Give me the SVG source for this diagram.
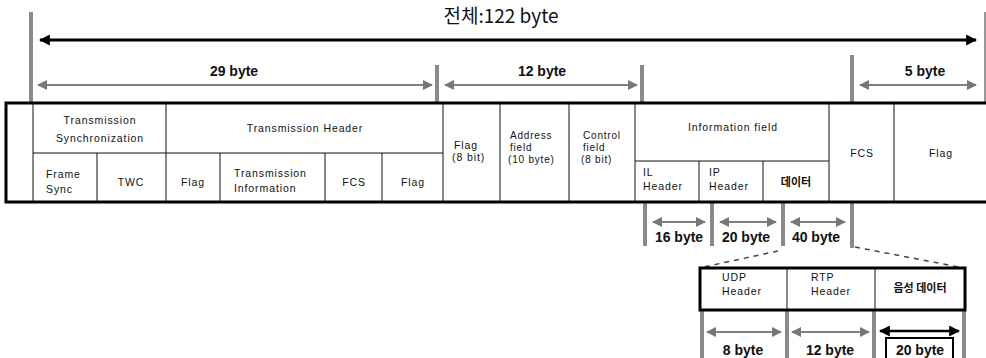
<svg xmlns="http://www.w3.org/2000/svg" width="986" height="358" viewBox="0 0 986 358">
<defs>
<style>
.t{font-family:"Liberation Sans","Noto Sans CJK KR",sans-serif;font-size:10.5px;letter-spacing:0.9px;fill:#111}
.s{font-size:10px;letter-spacing:0.8px}
.k{font-family:"Noto Sans CJK KR","Liberation Sans",sans-serif;font-size:11px;font-weight:bold;fill:#111}
.b{font-family:"Liberation Sans","Noto Sans CJK KR",sans-serif;font-size:14px;font-weight:bold;fill:#111;text-anchor:middle}
.m{text-anchor:middle}
.bar{fill:#8a8a8a}
.cell{fill:none;stroke:#111;stroke-width:1}
.frame{fill:none;stroke:#000;stroke-width:3}
.ga{stroke:#555;stroke-width:1.5;fill:none;marker-start:url(#gs);marker-end:url(#ge)}
</style>
<marker id="ge" viewBox="0 0 10 10" refX="9" refY="5" markerWidth="10" markerHeight="10" markerUnits="userSpaceOnUse" orient="auto"><path d="M0,0 L10,5 L0,10 Z" fill="#777"/></marker>
<marker id="gs" viewBox="0 0 10 10" refX="1" refY="5" markerWidth="10" markerHeight="10" markerUnits="userSpaceOnUse" orient="auto"><path d="M10,0 L0,5 L10,10 Z" fill="#777"/></marker>
<marker id="be" viewBox="0 0 10 10" refX="9" refY="5" markerWidth="11" markerHeight="11" markerUnits="userSpaceOnUse" orient="auto"><path d="M0,0 L10,5 L0,10 Z" fill="#000"/></marker>
<marker id="bs" viewBox="0 0 10 10" refX="1" refY="5" markerWidth="11" markerHeight="11" markerUnits="userSpaceOnUse" orient="auto"><path d="M10,0 L0,5 L10,10 Z" fill="#000"/></marker>
</defs>
<rect width="986" height="358" fill="#fff"/>

<g id="connectors">
<line x1="40" y1="40" x2="976" y2="40" stroke="#000" stroke-width="3" marker-start="url(#bs)" marker-end="url(#be)"/>
<line x1="985" y1="12" x2="985" y2="103" stroke="#333" stroke-width="1"/>
<rect class="bar" x="29" y="12" width="4" height="92"/>
<rect class="bar" x="435" y="65" width="4" height="39"/>
<rect class="bar" x="640" y="65" width="4" height="39"/>
<rect class="bar" x="850" y="55" width="4" height="49"/>
<line class="ga" x1="38" y1="85" x2="432" y2="85"/>
<line class="ga" x1="445" y1="85" x2="637" y2="85"/>
<line class="ga" x1="860" y1="85" x2="976" y2="85"/>
<rect class="bar" x="643" y="203" width="4" height="43"/>
<rect class="bar" x="710" y="203" width="4" height="43"/>
<rect class="bar" x="781" y="203" width="4" height="43"/>
<rect class="bar" x="850" y="203" width="4" height="45"/>
<line class="ga" x1="653" y1="222" x2="705" y2="222"/>
<line class="ga" x1="720" y1="222" x2="776" y2="222"/>
<line class="ga" x1="791" y1="222" x2="845" y2="222"/>
<line x1="778" y1="251" x2="699" y2="268" stroke="#444" stroke-width="1.5" stroke-dasharray="5,5"/>
<line x1="855" y1="247" x2="964" y2="268" stroke="#444" stroke-width="1.5" stroke-dasharray="5,5"/>
<rect class="bar" x="700" y="310" width="4" height="48"/>
<rect class="bar" x="785" y="310" width="4" height="48"/>
<rect class="bar" x="872" y="310" width="4" height="48"/>
<rect class="bar" x="962" y="310" width="4" height="48"/>
<line class="ga" x1="707" y1="332" x2="781" y2="332"/>
<line class="ga" x1="792" y1="332" x2="869" y2="332"/>
<line x1="880" y1="331" x2="959" y2="331" stroke="#000" stroke-width="2.5" marker-start="url(#bs)" marker-end="url(#be)"/>
</g>

<g id="title"><text x="501" y="23" class="m" style="font-family:'Noto Sans CJK KR','Liberation Sans',sans-serif;font-size:19px;fill:#111">전체:122 byte</text></g>
<g id="label-29"><text class="b" x="234" y="76">29 byte</text></g>
<g id="label-12"><text class="b" x="542" y="76">12 byte</text></g>
<g id="label-5"><text class="b" x="925" y="76">5 byte</text></g>
<g id="label-16"><text class="b" x="679" y="242">16 byte</text></g>
<g id="label-20a"><text class="b" x="746" y="242">20 byte</text></g>
<g id="label-40"><text class="b" x="816" y="242">40 byte</text></g>
<g id="label-8"><text class="b" x="743" y="355">8 byte</text></g>
<g id="label-12b"><text class="b" x="830" y="355">12 byte</text></g>
<g id="label-20b"><rect x="886" y="338" width="67" height="24" fill="#fff" stroke="#000" stroke-width="2"/><text class="b" x="920" y="355">20 byte</text></g>

<g id="frame">
<rect class="frame" x="6" y="103" width="985" height="99"/>
<line class="cell" x1="33" y1="103" x2="33" y2="202" stroke-width="1.5"/>
</g>
<g id="tx-sync">
<line class="cell" x1="166" y1="103" x2="166" y2="202"/>
<line class="cell" x1="33" y1="153" x2="443" y2="153"/>
<text class="t m" x="100" y="124">Transmission</text>
<text class="t m" x="100" y="142">Synchronization</text>
</g>
<g id="frame-sync"><line class="cell" x1="97" y1="153" x2="97" y2="202"/><text class="t" x="46" y="178">Frame</text><text class="t" x="46" y="193">Sync</text></g>
<g id="twc"><text class="t m" x="131" y="186">TWC</text></g>
<g id="tx-header"><line class="cell" x1="443" y1="103" x2="443" y2="202"/><text class="t m" x="305" y="132">Transmission Header</text></g>
<g id="flag1"><line class="cell" x1="220" y1="153" x2="220" y2="202"/><text class="t m" x="193" y="186">Flag</text></g>
<g id="tx-info"><line class="cell" x1="325" y1="153" x2="325" y2="202"/><text class="t" x="234" y="177">Transmission</text><text class="t" x="234" y="192">Information</text></g>
<g id="fcs1"><line class="cell" x1="382" y1="153" x2="382" y2="202"/><text class="t m" x="354" y="186">FCS</text></g>
<g id="flag2"><text class="t m" x="413" y="186">Flag</text></g>
<g id="flag8"><line class="cell" x1="500" y1="103" x2="500" y2="202"/><text class="t" x="454" y="149">Flag</text><text class="t" x="452" y="161">(8 bit)</text></g>
<g id="address"><line class="cell" x1="569" y1="103" x2="569" y2="202"/><text class="t s" x="510" y="139">Address</text><text class="t s" x="510" y="151">field</text><text class="t s" x="508" y="163">(10 byte)</text></g>
<g id="control"><line class="cell" x1="635" y1="103" x2="635" y2="202"/><text class="t s" x="583" y="139">Control</text><text class="t s" x="583" y="151">field</text><text class="t s" x="581" y="163">(8 bit)</text></g>
<g id="info-field"><line class="cell" x1="635" y1="161" x2="829" y2="161"/><line class="cell" x1="829" y1="103" x2="829" y2="202"/><text class="t m" x="733" y="131">Information field</text></g>
<g id="il-header"><line class="cell" x1="699" y1="161" x2="699" y2="202"/><text class="t" x="643" y="176">IL</text><text class="t" x="643" y="190">Header</text></g>
<g id="ip-header"><line class="cell" x1="763" y1="161" x2="763" y2="202"/><text class="t" x="709" y="176">IP</text><text class="t" x="709" y="190">Header</text></g>
<g id="data"><text class="k m" x="796" y="186">데이터</text></g>
<g id="fcs2"><line class="cell" x1="894" y1="103" x2="894" y2="202"/><text class="t m" x="862" y="157">FCS</text></g>
<g id="flag3"><text class="t m" x="941" y="157">Flag</text></g>

<g id="sub-box">
<rect class="frame" x="700" y="268" width="265" height="42"/>
</g>
<g id="udp"><line class="cell" x1="787" y1="268" x2="787" y2="310"/><text class="t" x="722" y="281">UDP</text><text class="t" x="722" y="295">Header</text></g>
<g id="rtp"><line class="cell" x1="875" y1="268" x2="875" y2="310"/><text class="t" x="811" y="281">RTP</text><text class="t" x="811" y="295">Header</text></g>
<g id="voice"><text class="k m" x="920" y="292">음성 데이터</text></g>
</svg>
